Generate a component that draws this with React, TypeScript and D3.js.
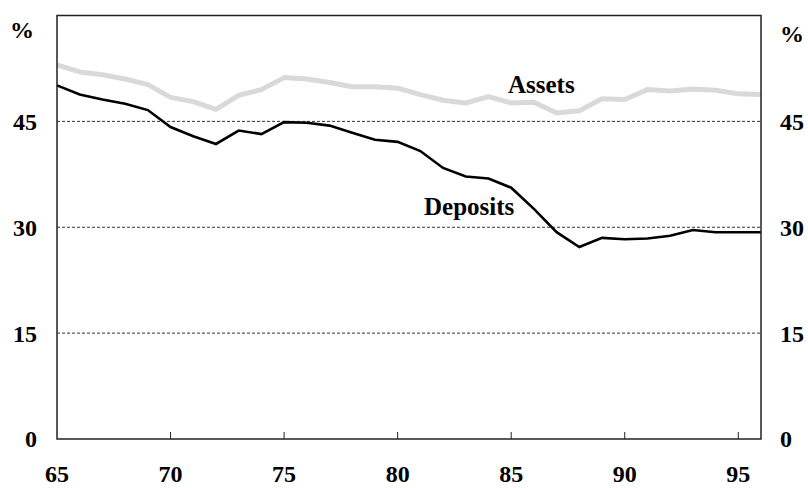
import React, { useRef, useEffect } from 'react'
import * as d3 from 'd3'

const years = [65, 66, 67, 68, 69, 70, 71, 72, 73, 74, 75, 76, 77, 78, 79, 80,
  81, 82, 83, 84, 85, 86, 87, 88, 89, 90, 91, 92, 93, 94, 95, 96]
const deposits = [50.1, 48.8, 48.1, 47.5, 46.6, 44.2, 42.9, 41.8, 43.7, 43.2, 44.9, 44.8,
  44.4, 43.4, 42.4, 42.1, 40.8, 38.4, 37.2, 36.9, 35.6, 32.6, 29.3, 27.2, 28.5, 28.3,
  28.4, 28.8, 29.6, 29.3, 29.3, 29.3]
const assets = [53.0, 52.0, 51.6, 51.0, 50.2, 48.4, 47.8, 46.7, 48.7, 49.5, 51.2, 51.0,
  50.5, 49.9, 49.9, 49.7, 48.8, 48.0, 47.6, 48.5, 47.6, 47.7, 46.2, 46.5, 48.2, 48.1,
  49.5, 49.3, 49.6, 49.4, 48.9, 48.8]
const yTicks = [0, 15, 30, 45]
const xTicks = [65, 70, 75, 80, 85, 90, 95]

const W = 808
const H = 488

function App() {
  const svgRef = useRef<SVGSVGElement>(null)

  useEffect(() => {
    const svg = d3.select(svgRef.current)
    svg.selectAll('*').remove()

    const x = d3.scaleLinear().domain([65, 96]).range([57, 761])
    const y = d3.scaleLinear().domain([0, 60]).range([439, 15.5])
    const font = '"Liberation Serif", "Times New Roman", serif'

    // dashed gridlines
    svg.append('g')
      .selectAll('line')
      .data(yTicks.filter((d) => d > 0))
      .join('line')
      .attr('x1', x(65)).attr('x2', x(96))
      .attr('y1', (d) => y(d)).attr('y2', (d) => y(d))
      .attr('stroke', '#000')
      .attr('stroke-width', 0.8)
      .attr('stroke-dasharray', '3,2')

    // series
    const line = d3.line<number>()
      .x((d, i) => x(years[i]))
      .y((d) => y(d))

    svg.append('path')
      .attr('d', line(assets))
      .attr('fill', 'none')
      .attr('stroke', '#d9d9d9')
      .attr('stroke-width', 5)
      .attr('stroke-linejoin', 'round')

    svg.append('path')
      .attr('d', line(deposits))
      .attr('fill', 'none')
      .attr('stroke', '#000')
      .attr('stroke-width', 2.6)

    // frame
    svg.append('rect')
      .attr('x', x(65)).attr('y', y(60))
      .attr('width', x(96) - x(65)).attr('height', y(0) - y(60))
      .attr('fill', 'none')
      .attr('stroke', '#222')
      .attr('stroke-width', 1.5)

    // x ticks pointing up
    svg.append('g')
      .selectAll('line')
      .data(xTicks.slice(1))
      .join('line')
      .attr('x1', (d) => x(d)).attr('x2', (d) => x(d))
      .attr('y1', y(0)).attr('y2', y(0) - 7)
      .attr('stroke', '#222')
      .attr('stroke-width', 1)

    const labels = svg.append('g')
      .attr('font-family', font)
      .attr('font-weight', 'bold')
      .attr('font-size', 24)
      .attr('fill', '#000')

    labels.selectAll('.yl')
      .data(yTicks)
      .join('text')
      .attr('x', 37)
      .attr('y', (d) => y(d))
      .attr('dy', '0.35em')
      .attr('text-anchor', 'end')
      .text((d) => d)

    labels.selectAll('.yr')
      .data(yTicks)
      .join('text')
      .attr('x', 780)
      .attr('y', (d) => y(d))
      .attr('dy', '0.35em')
      .text((d) => d)

    labels.selectAll('.xl')
      .data(xTicks)
      .join('text')
      .attr('x', (d) => x(d))
      .attr('y', 482)
      .attr('text-anchor', 'middle')
      .text((d) => d)

    labels.append('text').attr('x', 10).attr('y', 38).text('%')
    labels.append('text').attr('x', 780).attr('y', 42).text('%')

    labels.append('text').attr('x', 508).attr('y', 93).attr('font-size', 25).text('Assets')
    labels.append('text').attr('x', 424).attr('y', 215).attr('font-size', 25).text('Deposits')
  }, [])

  return (
    <svg ref={svgRef} width={W} height={H}
      style={{ position: 'absolute', left: 0, top: 0, background: '#fff' }} />
  )
}

export default App
